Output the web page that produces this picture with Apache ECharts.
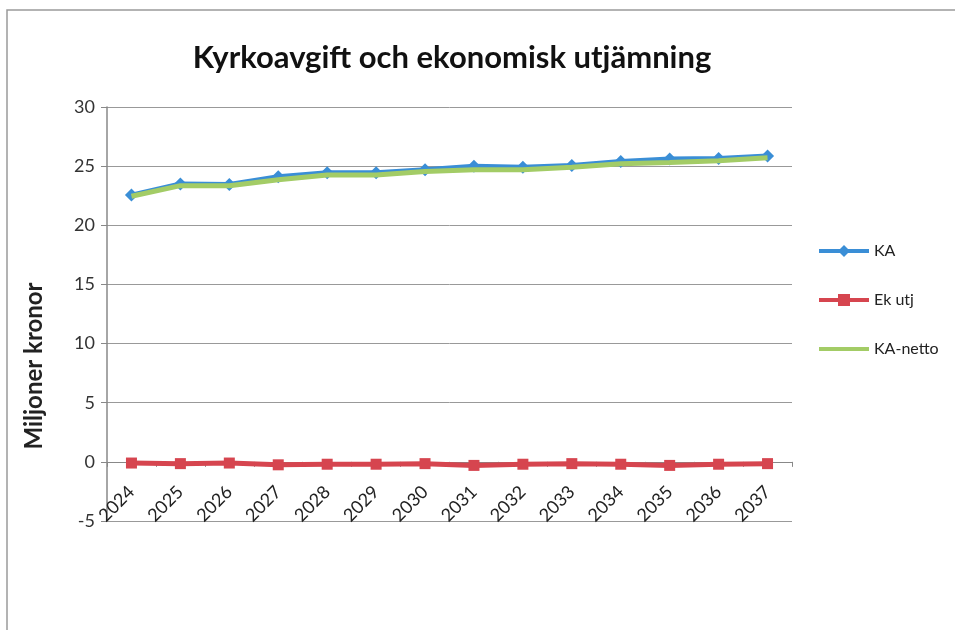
<!DOCTYPE html>
<html><head><meta charset="utf-8">
<script src="https://cdn.jsdelivr.net/npm/echarts@6/dist/echarts.min.js"></script>
<style>html,body{margin:0;padding:0;background:#fff}#c{width:955px;height:630px}</style>
</head><body><div id="c"></div>
<script>
const years = ['2024','2025','2026','2027','2028','2029','2030','2031','2032','2033','2034','2035','2036','2037'];
const ka      = [22.55,23.5,23.45,24.1,24.45,24.45,24.7,25.0,24.9,25.05,25.4,25.6,25.65,25.85];
const ekUtj   = [-0.1,-0.15,-0.1,-0.25,-0.2,-0.2,-0.15,-0.3,-0.2,-0.15,-0.2,-0.3,-0.2,-0.15];
const kaNetto = [22.45,23.35,23.35,23.85,24.25,24.25,24.55,24.7,24.7,24.9,25.2,25.3,25.45,25.7];
const yTicks  = {min:-5, max:30, interval:5};

const chart = echarts.init(document.getElementById('c'));
chart.setOption({
  animation:false,
  backgroundColor:'#fff',
  title:{text:'Kyrkoavgift och ekonomisk utjämning', left:447, top:37, textAlign:'center',
    textStyle:{fontFamily:'Lato', fontWeight:'bold', fontSize:31, color:'#111'}},
  graphic:[
    {type:'rect', shape:{x:7,y:10,width:960,height:640}, style:{fill:'none', stroke:'#9a9a9a', lineWidth:1.5}},
    {type:'text', x:34, y:366, rotation:Math.PI/2,
      style:{text:'Miljoner kronor', fontFamily:'Lato', fontWeight:'bold', fontSize:24, fill:'#222', align:'center', verticalAlign:'middle'}}
  ],
  legend:{orient:'vertical', left:812, top:238, itemWidth:50, itemHeight:15, itemGap:33,
    lineStyle:{width:4},
    textStyle:{fontFamily:'Lato', fontSize:16, color:'#222'},
    data:['KA','Ek utj',{name:'KA-netto', itemStyle:{opacity:0}}]},
  grid:{left:107, right:163, top:107, bottom:109},
  xAxis:{type:'category', data:years, boundaryGap:true,
    axisLine:{onZero:true, lineStyle:{color:'#888', width:1}},
    axisTick:{show:true, length:5, interval:0, lineStyle:{color:'#888'}},
    axisLabel:{rotate:45, interval:0, margin:-32, fontFamily:'Lato', fontSize:18, color:'#222'}},
  yAxis:{type:'value', min:yTicks.min, max:yTicks.max, interval:yTicks.interval,
    axisLine:{show:true, lineStyle:{color:'#888', width:1.5}},
    axisTick:{show:true, length:6, lineStyle:{color:'#888'}},
    splitLine:{lineStyle:{color:'#999', width:1}},
    axisLabel:{margin:12, fontFamily:'Lato', fontSize:18, color:'#333'}},
  series:[
    {name:'KA', type:'line', data:ka, symbol:'diamond', symbolSize:13,
      lineStyle:{color:'#3a8ed6', width:5}, itemStyle:{color:'#3a8ed6'}, z:3},
    {name:'Ek utj', type:'line', data:ekUtj, symbol:'rect', symbolSize:11,
      lineStyle:{color:'#d6454f', width:5}, itemStyle:{color:'#d6454f'}, z:3},
    {name:'KA-netto', type:'line', data:kaNetto, symbol:'none',
      lineStyle:{color:'#a3cc66', width:5}, itemStyle:{color:'#a3cc66'}, z:4}
  ]
});
</script></body></html>
